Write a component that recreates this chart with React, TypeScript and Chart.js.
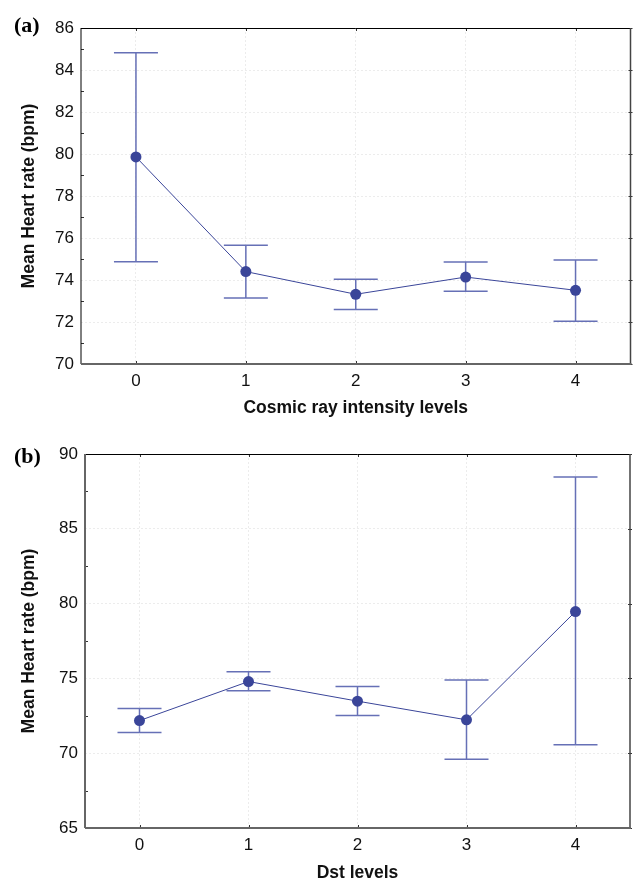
import React, { useEffect, useRef } from "react";
import { Chart, registerables } from "chart.js";
Chart.register(...registerables);

// ---------- data ----------
const levels = ["0", "1", "2", "3", "4"];

const cosmicMean = [79.86, 74.4, 73.32, 74.14, 73.51];
const cosmicUpper = [84.82, 75.65, 74.03, 74.86, 74.95];
const cosmicLower = [74.87, 73.14, 72.6, 73.46, 72.03];

const dstMean = [72.18, 74.79, 73.48, 72.23, 79.47];
const dstUpper = [72.98, 75.44, 74.46, 74.9, 88.46];
const dstLower = [71.38, 74.17, 72.52, 69.6, 70.56];

const cosmicYRange = [70, 86, 2];
const dstYRange = [65, 90, 5];

const cosmicTitle = "Cosmic ray intensity levels";
const dstTitle = "Dst levels";
const yTitle = "Mean Heart rate (bpm)";

// ---------- styles ----------
const MARK = "#3A4599";
const ERR = "#6670B6";
const SANS = "'Liberation Sans', Arial, sans-serif";

const errorBarPlugin = {
  id: "errbars",
  beforeDatasetsDraw(chart: any, _args: any, opts: any) {
    const { ctx, scales } = chart;
    const x = scales.x;
    const y = scales.y;
    ctx.save();
    ctx.strokeStyle = ERR;
    ctx.lineWidth = 1.5;
    for (let i = 0; i < opts.upper.length; i++) {
      const px = x.getPixelForValue(i);
      const hi = y.getPixelForValue(opts.upper[i]);
      const lo = y.getPixelForValue(opts.lower[i]);
      ctx.beginPath();
      ctx.moveTo(px, hi);
      ctx.lineTo(px, lo);
      ctx.moveTo(px - 22, hi);
      ctx.lineTo(px + 22, hi);
      ctx.moveTo(px - 22, lo);
      ctx.lineTo(px + 22, lo);
      ctx.stroke();
    }
    ctx.restore();
  },
};

const framePlugin = {
  id: "frame",
  afterDraw(chart: any, _args: any, opts: any) {
    const { ctx, chartArea: a, scales } = chart;
    const y = scales.y;
    const x = scales.x;
    ctx.save();
    ctx.strokeStyle = "#333";
    ctx.lineWidth = 1;
    for (let v = opts.min + opts.step / 2; v < opts.max; v += opts.step) {
      const py = Math.round(y.getPixelForValue(v)) + 0.5;
      ctx.beginPath();
      ctx.moveTo(a.left, py);
      ctx.lineTo(a.left + 3, py);
      ctx.stroke();
    }
    for (let v = opts.min; v <= opts.max; v += opts.step) {
      const py = Math.round(y.getPixelForValue(v)) + 0.5;
      ctx.beginPath();
      ctx.moveTo(a.right - 2, py);
      ctx.lineTo(a.right + 2, py);
      ctx.stroke();
    }
    for (let i = 0; i < levels.length; i++) {
      const px = Math.round(x.getPixelForValue(i)) + 0.5;
      ctx.beginPath();
      ctx.moveTo(px, a.top);
      ctx.lineTo(px, a.top + 3);
      ctx.moveTo(px, a.bottom);
      ctx.lineTo(px, a.bottom - 3);
      ctx.stroke();
    }
    ctx.strokeStyle = "#000";
    ctx.lineWidth = 1;
    ctx.beginPath();
    ctx.moveTo(a.left, a.top + 0.5);
    ctx.lineTo(a.right, a.top + 0.5);
    ctx.stroke();
    ctx.strokeStyle = "#444";
    ctx.lineWidth = 1.5;
    ctx.beginPath();
    ctx.moveTo(a.right, a.top);
    ctx.lineTo(a.right, a.bottom);
    ctx.stroke();
    ctx.strokeStyle = opts.leftColor;
    ctx.lineWidth = opts.leftWidth;
    ctx.beginPath();
    ctx.moveTo(a.left, a.top);
    ctx.lineTo(a.left, a.bottom);
    ctx.stroke();
    ctx.strokeStyle = "#666";
    ctx.lineWidth = 2;
    ctx.beginPath();
    ctx.moveTo(a.left, a.bottom);
    ctx.lineTo(a.right + 1, a.bottom);
    ctx.stroke();
    ctx.restore();
  },
};

type PanelProps = {
  height: number;
  mean: number[];
  upper: number[];
  lower: number[];
  yRange: number[];
  xTitle: string;
  yAxisWidth: number;
  xAxisHeight: number;
  padTop: number;
  padRight: number;
  xTitlePadBottom: number;
  yTitlePadTop: number;
  leftColor: string;
  leftWidth: number;
};

function Panel(p: PanelProps) {
  const ref = useRef<HTMLCanvasElement | null>(null);
  useEffect(() => {
    if (!ref.current) return;
    const [min, max, step] = p.yRange;
    const chart = new Chart(ref.current, {
      type: "line",
      data: {
        labels: levels,
        datasets: [
          {
            data: p.mean,
            borderColor: MARK,
            borderWidth: 1,
            pointRadius: 5.5,
            pointBackgroundColor: MARK,
            pointBorderWidth: 0,
            pointBorderColor: MARK,
            tension: 0,
          },
        ],
      },
      options: {
        animation: false,
        responsive: false,
        devicePixelRatio: 1,
        layout: { padding: { top: p.padTop, right: p.padRight, left: 0, bottom: 0 } },
        plugins: {
          legend: { display: false },
          tooltip: { enabled: false },
          errbars: { upper: p.upper, lower: p.lower },
          frame: { min, max, step, leftColor: p.leftColor, leftWidth: p.leftWidth },
        } as any,
        scales: {
          x: {
            type: "category",
            offset: true,
            grid: {
              offset: false,
              color: "#ececec",
              lineWidth: 1,
              drawTicks: false,
            },
            border: { display: false, dash: [2, 2] },
            ticks: {
              padding: 7,
              color: "#111",
              font: { family: SANS, size: 17 },
            },
            title: {
              display: true,
              text: p.xTitle,
              color: "#111",
              font: { family: SANS, size: 17.5, weight: "bold", lineHeight: 1 },
              padding: { top: 0, bottom: p.xTitlePadBottom },
            },
            afterFit: (s: any) => {
              s.height = p.xAxisHeight;
            },
          } as any,
          y: {
            min,
            max,
            grid: {
              color: "#ececec",
              lineWidth: 1,
              drawTicks: false,
            },
            border: { display: false, dash: [2, 2] },
            ticks: {
              stepSize: step,
              padding: 7,
              color: "#111",
              font: { family: SANS, size: 17 },
            },
            title: {
              display: true,
              text: yTitle,
              color: "#111",
              font: { family: SANS, size: 17.5, weight: "bold", lineHeight: 1 },
              padding: { top: p.yTitlePadTop, bottom: 0 },
            },
            afterFit: (s: any) => {
              s.width = p.yAxisWidth;
            },
          } as any,
        },
      },
      plugins: [errorBarPlugin, framePlugin],
    });
    return () => chart.destroy();
  }, []);
  return (
    <canvas
      ref={ref}
      width={636}
      height={p.height}
      style={{ display: "block", width: 636, height: p.height }}
    />
  );
}

const labelStyle: React.CSSProperties = {
  position: "absolute",
  left: 14,
  fontFamily: "'Liberation Serif', 'Times New Roman', serif",
  fontWeight: "bold",
  fontSize: 22,
  lineHeight: "22px",
  color: "#000",
};

export default function App() {
  return (
    <div style={{ position: "absolute", left: 0, top: 0, width: 636, height: 882, background: "#fff" }}>
      <div style={{ position: "absolute", left: 0, top: 0 }}>
        <Panel
          height={430}
          mean={cosmicMean}
          upper={cosmicUpper}
          lower={cosmicLower}
          yRange={cosmicYRange}
          xTitle={cosmicTitle}
          yAxisWidth={81}
          xAxisHeight={66}
          padTop={28}
          padRight={3}
          xTitlePadBottom={13}
          yTitlePadTop={20}
          leftColor="#000"
          leftWidth={1}
        />
      </div>
      <div style={{ position: "absolute", left: 0, top: 430 }}>
        <Panel
          height={452}
          mean={dstMean}
          upper={dstUpper}
          lower={dstLower}
          yRange={dstYRange}
          xTitle={dstTitle}
          yAxisWidth={85}
          xAxisHeight={54}
          padTop={24}
          padRight={6}
          xTitlePadBottom={0}
          yTitlePadTop={20}
          leftColor="#666"
          leftWidth={2}
        />
      </div>
      <div style={{ ...labelStyle, top: 14 }}>(a)</div>
      <div style={{ ...labelStyle, top: 445 }}>(b)</div>
    </div>
  );
}
